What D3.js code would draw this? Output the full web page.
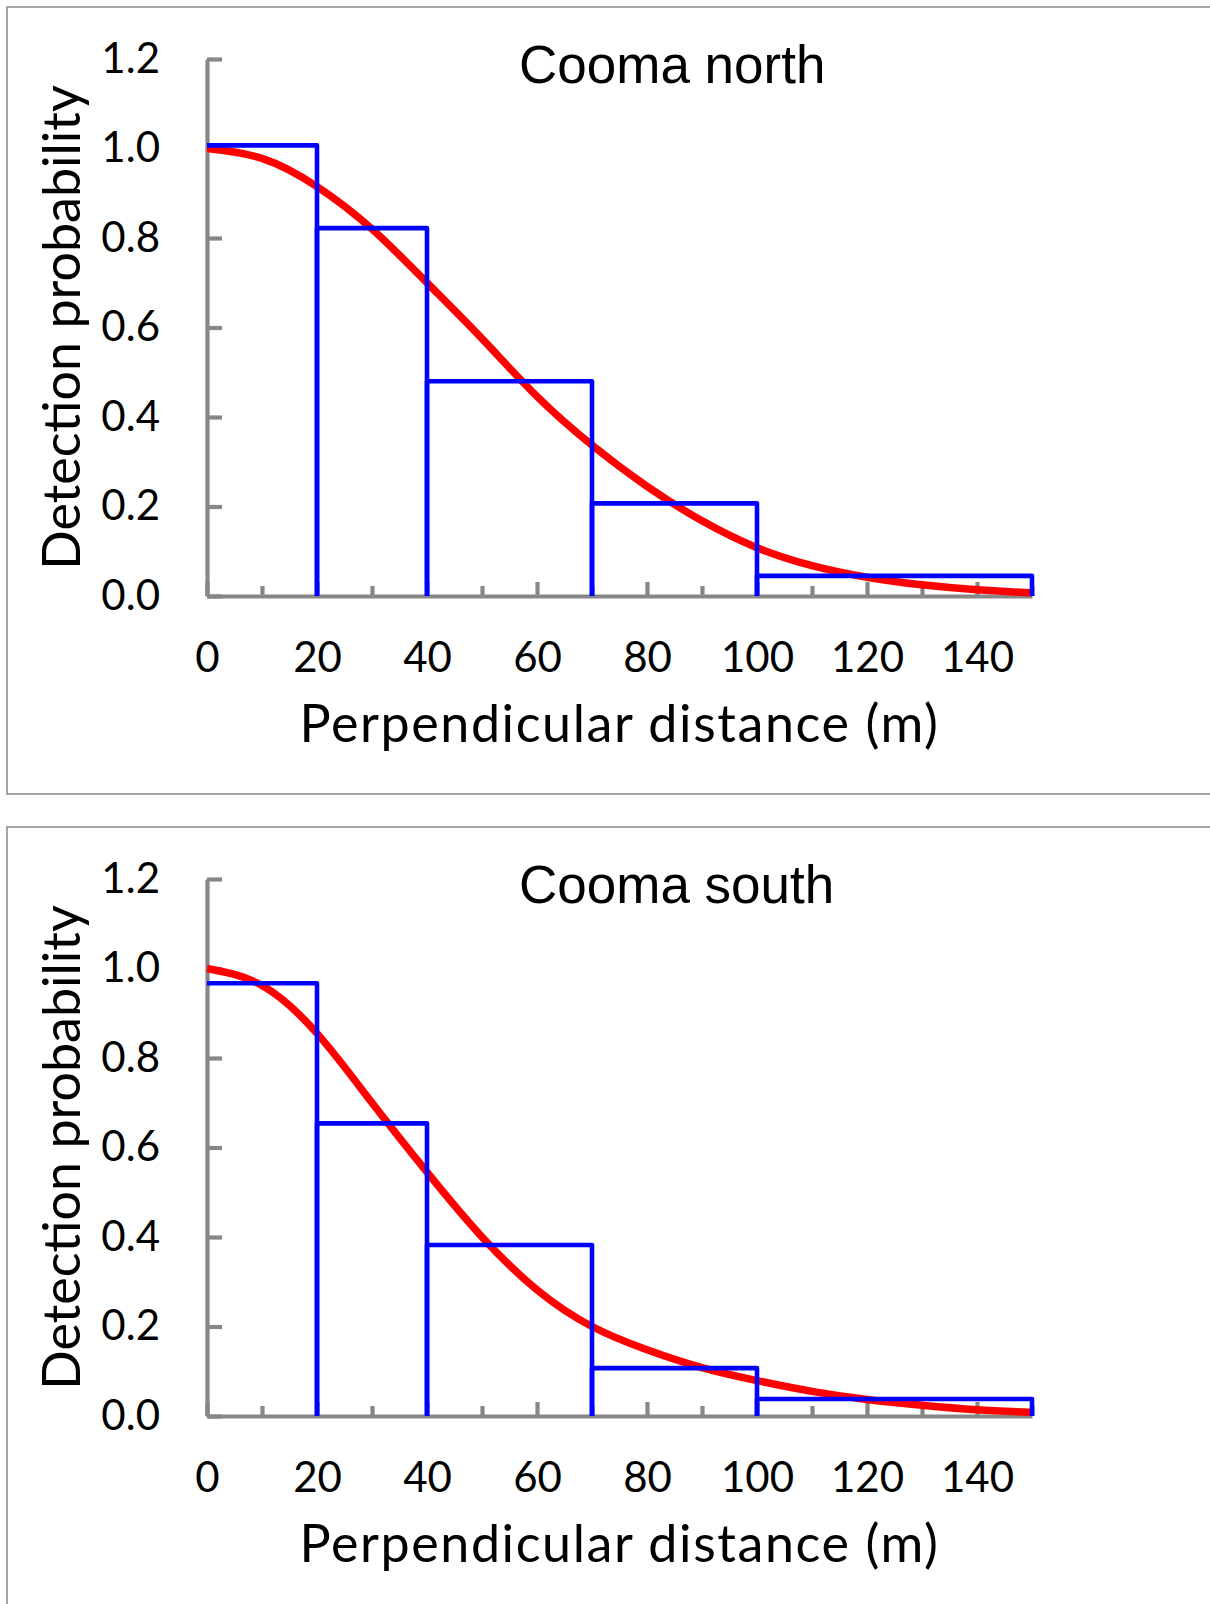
<!DOCTYPE html>
<html>
<head>
<meta charset="utf-8">
<script src="https://cdn.jsdelivr.net/npm/d3@7"></script>
<style>
  body { margin:0; background:#fff; }
  svg { display:block; }
  .tick text { font-family: Lato, "Open Sans", sans-serif; fill:#000; }
</style>
</head>
<body>
<svg id="chart" width="1210" height="1604"></svg>
<script>
// distance bins (m) and the observed detection proportions
const binEdges   = [0, 20, 40, 70, 100, 150];
const northBars  = [1.007, 0.822, 0.480, 0.207, 0.045];
const southBars  = [0.967, 0.654, 0.382, 0.107, 0.038];

// fitted detection function, every 10 m
const curveDist  = [0, 10, 20, 30, 40, 50, 60, 70, 80, 90, 100, 110, 120, 130, 140, 150];
const northCurve = [1.0, 0.978, 0.915, 0.820, 0.700, 0.575, 0.446, 0.337, 0.245, 0.168, 0.108, 0.068, 0.042, 0.025, 0.014, 0.007];
const southCurve = [1.0, 0.962, 0.855, 0.700, 0.545, 0.400, 0.282, 0.200, 0.148, 0.108, 0.079, 0.055, 0.037, 0.024, 0.014, 0.008];

const xTicks     = [0, 20, 40, 60, 80, 100, 120, 140];
const xMinor     = [10, 30, 50, 70, 90, 110, 130, 150];
const yTicks     = [0, 0.2, 0.4, 0.6, 0.8, 1.0, 1.2];
const titles     = ['Cooma north', 'Cooma south'];

const panels = [
  { title: titles[0], bars: northBars, curve: northCurve, top: 0 },
  { title: titles[1], bars: southBars, curve: southCurve, top: 820 }
];

const svg = d3.select('#chart');
const axisGrey = '#878787';

const x = d3.scaleLinear().domain([0, 150]).range([207, 1032]);
const y = d3.scaleLinear().domain([0, 1.2]).range([596, 59]);

function drawPanel(p) {
  const g = svg.append('g').attr('transform', `translate(0,${p.top})`);

  // chart frame (runs off the right edge)
  g.append('rect')
    .attr('x', 7).attr('y', 7)
    .attr('width', 1230).attr('height', 787)
    .attr('fill', 'none')
    .attr('stroke', '#8f8f8f')
    .attr('stroke-width', 1.6);

  // y axis
  const ya = g.append('g')
    .attr('transform', `translate(${x(0)},0)`)
    .call(d3.axisLeft(y).tickValues(yTicks).tickFormat(d3.format('.1f'))
      .tickSizeInner(-15).tickSizeOuter(0).tickPadding(47));
  ya.selectAll('text').style('font-size', '42px');

  // x axis, minor ticks first
  const xm = g.append('g')
    .attr('transform', `translate(0,${y(0)})`)
    .call(d3.axisBottom(x).tickValues(xMinor).tickFormat('').tickSizeInner(-10).tickSizeOuter(0));
  xm.select('.domain').remove();

  const xa = g.append('g')
    .attr('transform', `translate(0,${y(0)})`)
    .call(d3.axisBottom(x).tickValues(xTicks).tickSizeInner(-14).tickSizeOuter(0).tickPadding(46));
  xa.selectAll('text').style('font-size', '42px');

  g.selectAll('.domain, .tick line')
    .attr('stroke', axisGrey)
    .attr('stroke-width', 4.2);

  // fitted curve
  const line = d3.line()
    .x((d, i) => x(curveDist[i]))
    .y(d => y(d))
    .curve(d3.curveNatural);
  g.append('path')
    .datum(p.curve)
    .attr('d', line)
    .attr('fill', 'none')
    .attr('stroke', '#ff0000')
    .attr('stroke-width', 7.5);

  // histogram outline
  g.selectAll('path.bar')
    .data(p.bars)
    .join('path')
    .attr('class', 'bar')
    .attr('d', (h, i) => {
      const x0 = x(binEdges[i]), x1 = x(binEdges[i + 1]);
      const start = i === 0 ? `M${x0},${y(h)}` : `M${x0},${y(0)}V${y(h)}`;
      return `${start}H${x1}V${y(0)}`;
    })
    .attr('fill', 'none')
    .attr('stroke', '#0000ff')
    .attr('stroke-width', 4.6)
    .attr('stroke-linejoin', 'round');

  // titles
  g.append('text')
    .attr('x', 519).attr('y', 83)
    .style('font-family', '"Liberation Sans", Arial, sans-serif')
    .style('font-size', '53px')
    .text(p.title);

  g.append('text')
    .attr('x', (x(0) + x(150)) / 2).attr('y', 742)
    .attr('text-anchor', 'middle')
    .style('font-family', 'Lato, sans-serif')
    .style('font-size', '52px')
    .style('letter-spacing', '1.6px')
    .text('Perpendicular distance (m)');

  g.append('text')
    .attr('transform', `translate(80,${(y(0) + y(1.2)) / 2}) rotate(-90)`)
    .attr('text-anchor', 'middle')
    .style('font-family', 'Lato, sans-serif')
    .style('font-size', '52px')
    .text('Detection probability');
}

panels.forEach(drawPanel);
</script>
</body>
</html>
